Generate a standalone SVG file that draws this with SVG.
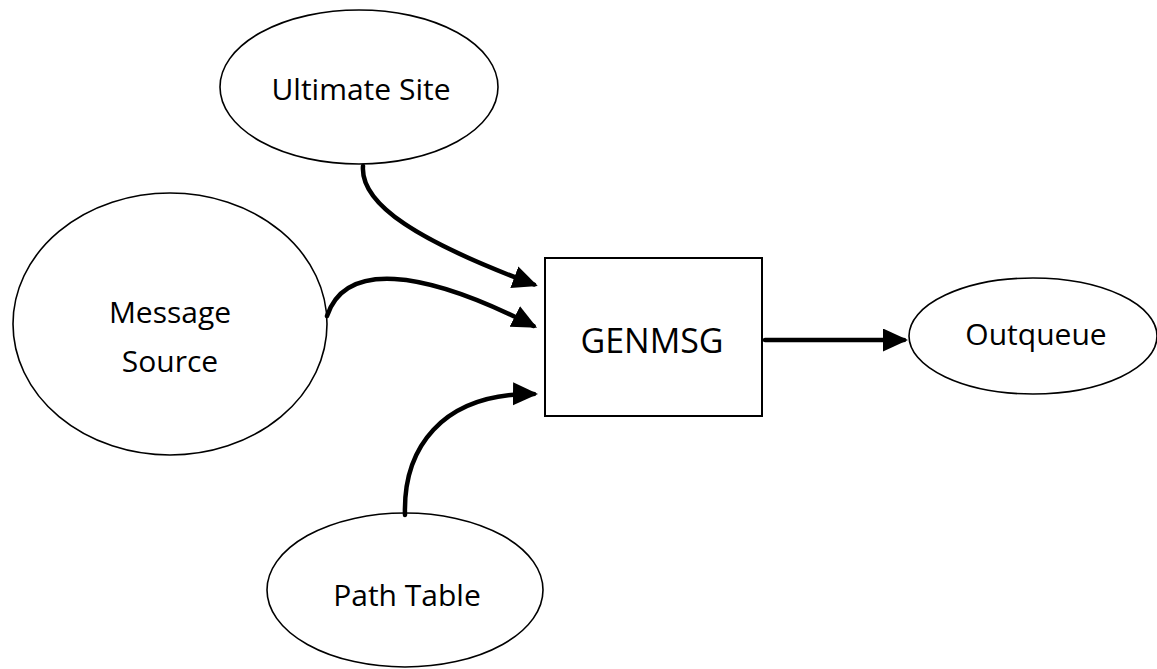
<svg xmlns="http://www.w3.org/2000/svg" width="1157" height="669" viewBox="0 0 1157 669">
  <style>
    .node { fill: #ffffff; stroke: #000000; stroke-width: 1.6; }
    .box { fill: #ffffff; stroke: #000000; stroke-width: 2; }
    .label { font-family: "Open Sans", "Liberation Sans", sans-serif; font-size: 30px; fill: #000000; text-anchor: middle; }
    .big { font-size: 34px; }
    .conn { fill: none; stroke: #000000; stroke-width: 4.5; stroke-linecap: round; }
  </style>
  <defs>
    <marker id="arrow" markerUnits="userSpaceOnUse" markerWidth="26" markerHeight="24" refX="21" refY="11.5" orient="auto">
      <path d="M0,0 L25,11.5 L0,23 Z" fill="#000000"/>
    </marker>
  </defs>
  <rect width="1157" height="669" fill="#ffffff"/>

  <g id="ultimate-site">
    <ellipse class="node" cx="359" cy="87" rx="139" ry="77"/>
    <text class="label" x="361" y="100">Ultimate Site</text>
  </g>
  <g id="message-source">
    <ellipse class="node" cx="170" cy="324" rx="157" ry="131"/>
    <text class="label" x="170" y="323">Message</text>
    <text class="label" x="170" y="372">Source</text>
  </g>
  <g id="path-table">
    <ellipse class="node" cx="405" cy="590" rx="138" ry="77"/>
    <text class="label" x="407" y="606">Path Table</text>
  </g>
  <g id="genmsg">
    <rect class="box" x="545" y="258" width="217" height="158"/>
    <text class="label big" x="652" y="353">GENMSG</text>
  </g>
  <g id="outqueue">
    <ellipse class="node" cx="1033" cy="336" rx="124" ry="58"/>
    <text class="label" x="1036" y="345">Outqueue</text>
  </g>

  <g id="connectors">
    <path class="conn" d="M363,166 C360,205 420,242 534,284.5" marker-end="url(#arrow)"/>
    <path class="conn" d="M327,316 C345,262 420,268 533.5,326" marker-end="url(#arrow)"/>
    <path class="conn" d="M405,515 C403,450 440,393 534,394" marker-end="url(#arrow)"/>
    <path class="conn" d="M765,340 L904,340" marker-end="url(#arrow)"/>
  </g>
</svg>
